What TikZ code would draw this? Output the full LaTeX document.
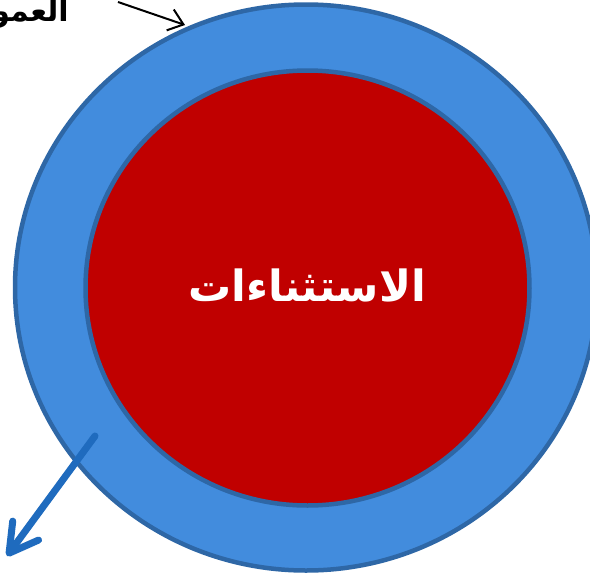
\documentclass[tikz,border=0pt]{standalone}
\usepackage{fontspec}
\usetikzlibrary{arrows.meta,shapes.geometric}
\TeXXeTstate=1
\newfontfamily\arabicfont[Script=Arabic]{DejaVu Sans}
\definecolor{ringfill}{RGB}{66,140,221}
\definecolor{ringline}{RGB}{46,103,166}
\definecolor{corefill}{RGB}{192,0,0}
\definecolor{arrowblue}{RGB}{31,107,190}
\tikzset{
  ring/.style={ellipse, draw=ringline, line width=4.5pt, inner sep=0pt},
  labeltext/.style={font=\arabicfont\bfseries, inner sep=0pt},
}
\begin{document}
\begin{tikzpicture}[x=1pt,y=-1pt]
\useasboundingbox (0,0) rectangle (590,574);
\clip (0,0) rectangle (590,574);
\node[ring, fill=ringfill, minimum width=582pt, minimum height=566pt] (outer) at (306,287.5) {};
\node[ring, fill=corefill, minimum width=444pt, minimum height=435pt] (inner) at (307.5,288) {};
\node[labeltext, text=white, font=\arabicfont\bfseries\fontsize{43}{48}\selectfont] (core) at (307,285) {\beginR الاستثناءات\endR};
\node[labeltext, anchor=base east, font=\arabicfont\bfseries\fontsize{30}{34}\selectfont] (gen) at (69,21) {\beginR العموم\endR};
\coordinate (ta) at (118,2);
\coordinate (tb) at (185,25);
\draw[line width=2pt, -{Straight Barb[length=14pt,width=22pt]}] (ta) -- (tb);
\coordinate (ba) at (95,436);
\coordinate (bb) at (7,556);
\draw[arrowblue, line width=7pt, line cap=round, -{Straight Barb[length=28pt,width=32pt,round]}] (ba) -- (bb);
\end{tikzpicture}
\end{document}
